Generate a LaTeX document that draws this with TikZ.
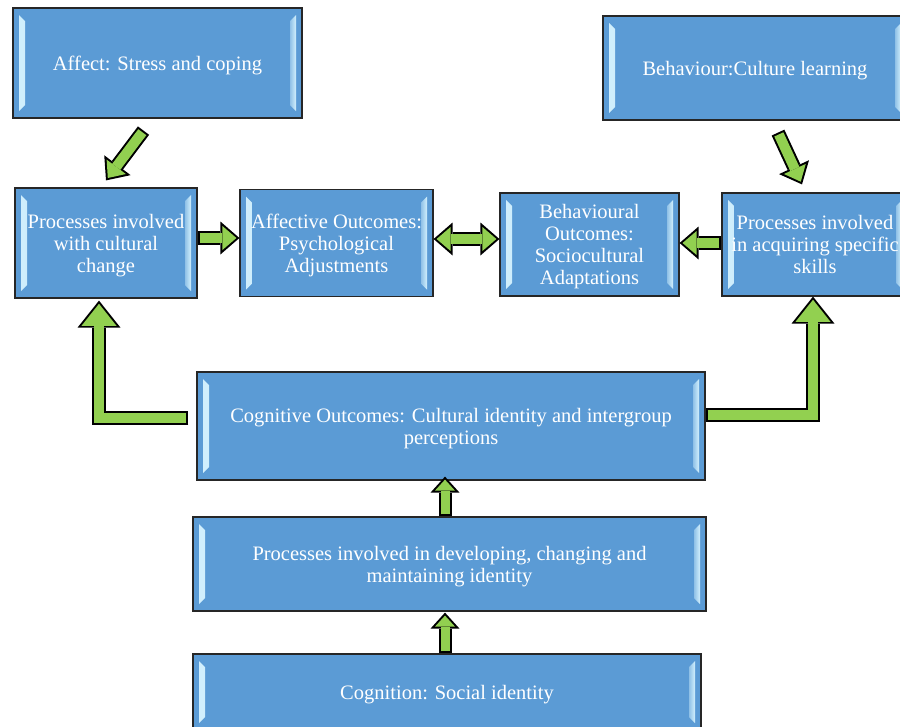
\documentclass[tikz,border=0pt]{standalone}
\usepackage{fontspec}
\setmainfont{Liberation Serif}
\usetikzlibrary{arrows.meta}

\definecolor{boxblue}{RGB}{91,155,213}
\definecolor{boxline}{RGB}{38,38,38}
\definecolor{bevellight}{RGB}{210,240,253}
\definecolor{arrowgreen}{RGB}{146,208,80}

\tikzset{
  box/.style={rectangle, draw=boxline, line width=1.2pt, fill=boxblue, text=white,
    align=center, inner sep=0pt, font=\fontsize{20.5}{22}\selectfont,
    text depth=-2pt,
    path picture={
      \fill[left color=bevellight, right color=boxblue!55!bevellight]
        ([xshift=6pt,yshift=-7pt]path picture bounding box.north west)
        -- ([xshift=12pt,yshift=-13pt]path picture bounding box.north west)
        -- ([xshift=12pt,yshift=13pt]path picture bounding box.south west)
        -- ([xshift=6pt,yshift=7pt]path picture bounding box.south west) -- cycle;
      \fill[left color=boxblue!55!bevellight, right color=bevellight]
        ([xshift=-12pt,yshift=-13pt]path picture bounding box.north east)
        -- ([xshift=-6pt,yshift=-7pt]path picture bounding box.north east)
        -- ([xshift=-6pt,yshift=7pt]path picture bounding box.south east)
        -- ([xshift=-12pt,yshift=13pt]path picture bounding box.south east) -- cycle;
    }},
  % green block arrows: black pass first, green pass on top
  flowarrow/.style={
    preaction={draw=black, line width=14pt, shorten <=0pt, shorten >=0pt,
      arrows={-Triangle[width=33pt,length=19pt,line width=0pt]}},
    draw=arrowgreen, line width=10pt, shorten <=2pt, shorten >=3pt,
    arrows={-Triangle[width=24pt,length=14pt,line width=0pt]}},
  twowayarrow/.style={
    preaction={draw=black, line width=14pt, shorten <=0pt, shorten >=0pt,
      arrows={Triangle[width=33pt,length=19pt,line width=0pt]-Triangle[width=33pt,length=19pt,line width=0pt]}},
    draw=arrowgreen, line width=10pt, shorten <=3pt, shorten >=3pt,
    arrows={Triangle[width=24pt,length=14pt,line width=0pt]-Triangle[width=24pt,length=14pt,line width=0pt]}},
  uparrow/.style={
    preaction={draw=black, line width=13pt, shorten <=0pt, shorten >=0pt,
      arrows={-Triangle[width=29pt,length=16pt,line width=0pt]}},
    draw=arrowgreen, line width=9pt, shorten <=2pt, shorten >=3pt,
    arrows={-Triangle[width=20pt,length=11pt,line width=0pt]}},
  elbowarrow/.style={
    preaction={draw=black, line width=14pt, shorten <=0pt, shorten >=0pt,
      arrows={-Triangle[width=43pt,length=27pt,line width=0pt]}},
    draw=arrowgreen, line width=10pt, shorten <=2pt, shorten >=3.2pt,
    arrows={-Triangle[width=35pt,length=22pt,line width=0pt]}},
}

\begin{document}
\begin{tikzpicture}[x=1pt,y=-1pt]
  \useasboundingbox (0,0) rectangle (900,726);
  \clip (0,0) rectangle (900,726);

  % Boxes
  \node[box, minimum width=289pt, minimum height=110pt] (affect) at (157.5,63) {Affect: Stress and coping};
  \node[box, minimum width=304pt, minimum height=104pt] (behav) at (755,68) {Behaviour:Culture learning};
  \node[box, minimum width=182pt, minimum height=110pt] (proc1) at (106,243) {Processes involved\\with cultural\\change};
  \node[box, minimum width=193pt, minimum height=107pt] (affout) at (336.5,243) {Affective Outcomes:\\Psychological\\Adjustments};
  \node[box, minimum width=179pt, minimum height=103pt] (behout) at (589.5,244.5) {Behavioural\\Outcomes:\\Sociocultural\\Adaptations};
  \node[box, minimum width=186pt, minimum height=103pt] (procacq) at (815,244.5) {Processes involved\\in acquiring specific\\skills};
  \node[box, minimum width=508pt, minimum height=108pt] (cogout) at (451,426) {Cognitive Outcomes: Cultural identity and intergroup\\perceptions};
  \node[box, minimum width=513pt, minimum height=94pt] (procdev) at (449.5,564) {Processes involved in developing, changing and\\maintaining identity};
  \node[box, minimum width=508pt, minimum height=76pt] (cognition) at (447,692) {Cognition: Social identity};

  % Arrows
  \draw[flowarrow] ([xshift=-14pt,yshift=-12pt]affect.south) -- ([yshift=7pt]proc1.north);
  \draw[flowarrow] ([xshift=23pt,yshift=-12pt]behav.south) -- ([xshift=-13pt,yshift=8pt]procacq.north);
  \draw[flowarrow] ([yshift=5pt]proc1.east) -- ([yshift=5pt]proc1.east -| affout.west);
  \draw[twowayarrow] ([yshift=4pt]affout.east) -- ([yshift=4pt]affout.east -| behout.west);
  \draw[flowarrow] ([yshift=1.5pt]procacq.west) -- ([yshift=1.5pt]behout.east);
  \draw[elbowarrow] ([xshift=-8pt,yshift=8pt]cogout.west) -| ([xshift=-7pt,yshift=-2pt]proc1.south);
  \draw[elbowarrow] ([yshift=11pt]cogout.east) -| ([xshift=-2pt]procacq.south);
  \draw[uparrow] ([xshift=-4.5pt]procdev.north) -- ([xshift=-4.5pt,yshift=4pt]procdev.north |- cogout.south);
  \draw[uparrow] ([xshift=-2pt]cognition.north) -- ([xshift=-2pt,yshift=-1pt]cognition.north |- procdev.south);
\end{tikzpicture}
\end{document}
